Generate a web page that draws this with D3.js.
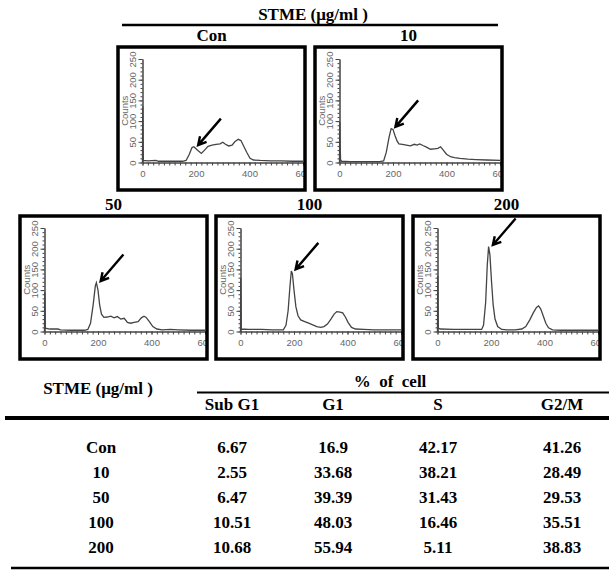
<!DOCTYPE html>
<html>
<head>
<meta charset="utf-8">
<script src="https://cdn.jsdelivr.net/npm/d3@7"></script>
<style>
  body { margin: 0; background: #fff; }
  svg { display: block; }
  .serif { font-family: 'Liberation Serif', 'Times New Roman', Times, serif; font-weight: bold; font-size: 17px; }
  .sans { font-family: 'Liberation Sans', Arial, sans-serif; font-size: 9.5px; }
</style>
</head>
<body>
<svg width="609" height="571"></svg>
<script>
// cell cycle histograms (PI counts vs channel) + phase table

let panelLabels = ['Con', '10', '50', '100', '200']

// [channel, counts]
let histCon = [[0, 0], [1, 135], [3, 5], [20, 4], [50, 5], [60, 3], [100, 3], [150, 3], [163, 5], [175, 20], [185, 36], [192, 38], [205, 30], [220, 22], [232, 30], [245, 39], [260, 42], [275, 44], [290, 45], [300, 49], [310, 44], [322, 40], [335, 42], [345, 50], [358, 56], [368, 53], [378, 40], [390, 24], [402, 10], [415, 6], [440, 5], [480, 4], [520, 4], [560, 3], [600, 3]]
let hist10 = [[0, 0], [1, 98], [2, 55], [4, 6], [8, 3], [40, 2], [100, 2], [150, 2], [165, 4], [175, 25], [185, 60], [193, 82], [200, 80], [207, 66], [215, 52], [222, 45], [235, 44], [250, 42], [265, 40], [280, 44], [290, 42], [300, 45], [312, 41], [325, 37], [340, 32], [355, 33], [368, 34], [378, 38], [388, 30], [400, 20], [415, 14], [430, 12], [450, 10], [480, 8], [510, 7], [550, 6], [600, 5]]
let hist50 = [[0, 0], [1, 95], [3, 8], [20, 6], [50, 6], [60, 4], [100, 3], [150, 3], [162, 5], [172, 20], [182, 65], [190, 110], [194, 118], [200, 100], [206, 65], [213, 42], [222, 34], [235, 35], [248, 37], [260, 33], [272, 36], [285, 30], [298, 32], [310, 22], [322, 20], [335, 22], [350, 24], [362, 33], [372, 37], [380, 34], [392, 24], [405, 12], [420, 6], [440, 4], [470, 5], [500, 4], [550, 3], [600, 3]]
let hist100 = [[0, 0], [1, 130], [3, 6], [30, 5], [80, 5], [120, 4], [160, 4], [170, 15], [178, 50], [185, 110], [190, 146], [194, 140], [200, 100], [207, 60], [215, 38], [225, 28], [240, 24], [255, 20], [270, 16], [285, 12], [300, 10], [312, 12], [325, 18], [338, 30], [350, 42], [360, 48], [372, 47], [382, 45], [392, 35], [402, 22], [415, 10], [430, 6], [460, 5], [500, 4], [550, 4], [600, 4]]
let hist200 = [[0, 0], [1, 134], [3, 8], [10, 6], [60, 5], [120, 5], [165, 5], [172, 15], [180, 70], [186, 160], [191, 205], [196, 185], [202, 120], [208, 65], [215, 30], [225, 12], [240, 5], [260, 4], [290, 4], [315, 6], [330, 12], [345, 28], [358, 45], [370, 58], [378, 62], [386, 54], [395, 38], [405, 20], [415, 9], [430, 4], [460, 3], [520, 3], [600, 3]]
let histograms = [histCon, hist10, hist50, hist100, hist200]

let xTicks = [0, 200, 400, 600]
let yTicks = [0, 50, 100, 150, 200, 250]

// table
let tableRows = ['Con', '10', '50', '100', '200']
let tableCols = ['Sub G1', 'G1', 'S', 'G2/M']
let subG1 = [6.67, 2.55, 6.47, 10.51, 10.68]
let g1 = [16.9, 33.68, 39.39, 48.03, 55.94]
let sPhase = [42.17, 38.21, 31.43, 16.46, 5.11]
let g2m = [41.26, 28.49, 29.53, 35.51, 38.83]
let tableValues = [subG1, g1, sPhase, g2m]

let svg = d3.select('svg')

// layout
let boxW = 187
let boxH = 143
let boxes = [[118, 47], [315, 47], [20, 216], [216, 216], [413, 216]]

let xScale = d3.scaleLinear()
  .domain([0, 600])
  .range([24.5, 185])
let yScale = d3.scaleLinear()
  .domain([0, 250])
  .range([boxH - 27.5, 12])

let line = d3.line()
  .x(d => xScale(d[0]))
  .y(d => yScale(d[1]))

/*
  Top heading
*/
svg.append('text')
  .attr('class', 'serif')
  .attr('x', 313)
  .attr('y', 20)
  .attr('text-anchor', 'middle')
  .text('STME (μg/ml )')

svg.append('line')
  .attr('x1', 122).attr('x2', 498)
  .attr('y1', 25).attr('y2', 25)
  .attr('stroke', '#000')
  .attr('stroke-width', 2.5)

/*
  Histogram panels
*/
panelLabels.forEach((label, i) => {
  let [bx, by] = boxes[i]
  let data = histograms[i]
  let g = svg.append('g').attr('transform', `translate(${bx}, ${by})`)

  g.append('text')
    .attr('class', 'serif')
    .attr('x', boxW / 2)
    .attr('y', -6)
    .attr('text-anchor', 'middle')
    .text(label)

  g.append('clipPath')
    .attr('id', 'clip' + i)
    .append('rect')
    .attr('width', boxW)
    .attr('height', boxH)

  let plot = g.append('g').attr('clip-path', `url(#clip${i})`)

  // minor ticks
  plot.append('g')
    .attr('transform', `translate(${xScale(0)}, 0)`)
    .call(d3.axisLeft(yScale).tickValues(d3.range(0, 251, 10)).tickSize(2).tickSizeOuter(0).tickFormat(''))
  plot.append('g')
    .attr('transform', `translate(0, ${yScale(0)})`)
    .call(d3.axisBottom(xScale).tickValues(d3.range(0, 601, 20)).tickSize(3).tickSizeOuter(0).tickFormat(''))

  // major ticks + labels
  let yAxis = plot.append('g')
    .attr('transform', `translate(${xScale(0)}, 0)`)
    .call(d3.axisLeft(yScale).tickValues(yTicks).tickSize(4).tickSizeOuter(0))
  yAxis.selectAll('text')
    .attr('class', 'sans')
    .attr('transform', 'rotate(-90)')
    .attr('x', 0)
    .attr('y', -7)
    .attr('dy', 0)
    .attr('text-anchor', 'middle')
    .attr('fill', '#666')

  let xAxis = plot.append('g')
    .attr('transform', `translate(0, ${yScale(0)})`)
    .call(d3.axisBottom(xScale).tickValues(xTicks).tickSize(3).tickSizeOuter(0))
  xAxis.selectAll('text')
    .attr('class', 'sans')
    .attr('y', 8)
    .attr('fill', '#666')

  plot.selectAll('g').attr('font-family', null).attr('font-size', null)
  plot.selectAll('.domain, .tick line').attr('stroke', '#444')

  plot.append('text')
    .attr('class', 'sans')
    .attr('transform', `translate(10, ${yScale(125)}) rotate(-90)`)
    .attr('text-anchor', 'middle')
    .attr('fill', '#666')
    .text('Counts')

  plot.append('path')
    .attr('d', line(data))
    .attr('fill', 'none')
    .attr('stroke', '#444')
    .attr('stroke-width', 1.3)

  // arrow pointing at the G1 peak
  let peak = d3.greatest(data.filter(d => d[0] > 160 && d[0] < 215), d => d[1])
  let tip = [xScale(peak[0] + 16), yScale(peak[1] + 4)]
  let tail = [xScale(peak[0] + 16 + 85), yScale(peak[1] + 4 + 64)]
  let ang = Math.atan2(tip[1] - tail[1], tip[0] - tail[0])
  let head = 9
  let a1 = [tip[0] - head * Math.cos(ang - 0.5), tip[1] - head * Math.sin(ang - 0.5)]
  let a2 = [tip[0] - head * Math.cos(ang + 0.5), tip[1] - head * Math.sin(ang + 0.5)]
  plot.append('path')
    .attr('d', `M${tail}L${tip}M${a1}L${tip}L${a2}`)
    .attr('fill', 'none')
    .attr('stroke', '#000')
    .attr('stroke-width', 2.4)

  g.append('rect')
    .attr('width', boxW)
    .attr('height', boxH)
    .attr('fill', 'none')
    .attr('stroke', '#000')
    .attr('stroke-width', 3.5)
})

/*
  Table
*/
let colX = d3.scaleOrdinal()
  .domain(tableCols)
  .range([232, 333, 438, 562])
let rowY = d3.scalePoint()
  .domain(tableRows)
  .range([453, 553])

let table = svg.append('g')

table.append('text')
  .attr('class', 'serif')
  .attr('x', 98)
  .attr('y', 394)
  .attr('text-anchor', 'middle')
  .text('STME (μg/ml )')

table.append('text')
  .attr('class', 'serif')
  .attr('x', 390)
  .attr('y', 387)
  .attr('text-anchor', 'middle')
  .style('white-space', 'pre')
  .text('%  of  cell')

table.append('line')
  .attr('x1', 197).attr('x2', 609)
  .attr('y1', 392.5).attr('y2', 392.5)
  .attr('stroke', '#000')
  .attr('stroke-width', 2)

table.selectAll('.colhead')
  .data(tableCols)
  .enter()
  .append('text')
  .attr('class', 'serif')
  .attr('x', d => colX(d))
  .attr('y', 410)
  .attr('text-anchor', 'middle')
  .text(d => d)

table.append('line')
  .attr('x1', 5).attr('x2', 609)
  .attr('y1', 418).attr('y2', 418)
  .attr('stroke', '#000')
  .attr('stroke-width', 4)

table.selectAll('.rowhead')
  .data(tableRows)
  .enter()
  .append('text')
  .attr('class', 'serif')
  .attr('x', 101)
  .attr('y', d => rowY(d))
  .attr('text-anchor', 'middle')
  .text(d => d)

tableCols.forEach((col, c) => {
  table.selectAll('.v' + c)
    .data(tableValues[c])
    .enter()
    .append('text')
    .attr('class', 'serif')
    .attr('x', colX(col))
    .attr('y', (d, r) => rowY(tableRows[r]))
    .attr('text-anchor', 'middle')
    .text(d => String(d))
})

table.append('line')
  .attr('x1', 11).attr('x2', 609)
  .attr('y1', 568).attr('y2', 568)
  .attr('stroke', '#000')
  .attr('stroke-width', 2.5)
</script>
</body>
</html>
